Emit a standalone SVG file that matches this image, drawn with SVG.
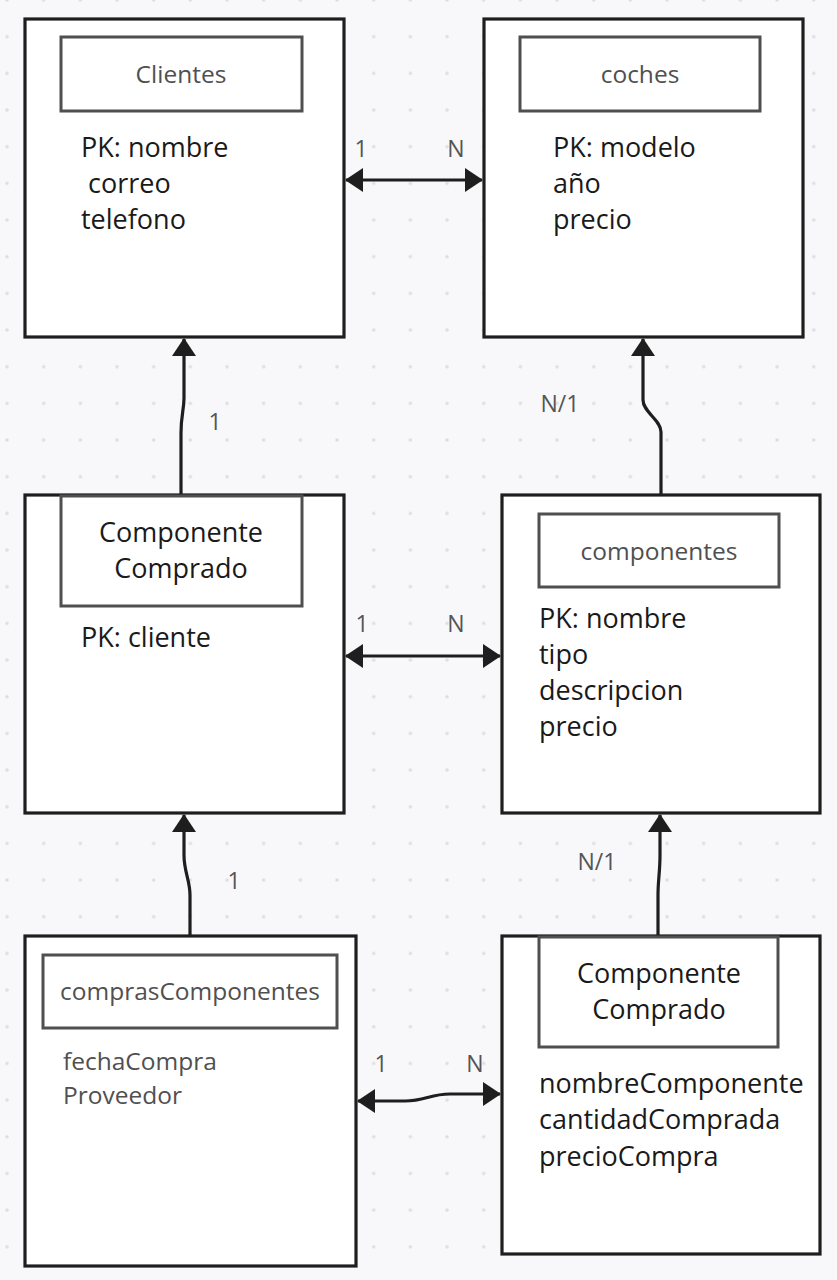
<svg xmlns="http://www.w3.org/2000/svg" width="837" height="1280" viewBox="0 0 837 1280">
<defs>
<pattern id="dots" x="7" y="0" width="36.67" height="36.67" patternUnits="userSpaceOnUse">
<circle cx="0" cy="0" r="1.8" fill="#dedee0"/>
<circle cx="36.67" cy="0" r="1.8" fill="#dedee0"/>
<circle cx="0" cy="36.67" r="1.8" fill="#dedee0"/>
<circle cx="36.67" cy="36.67" r="1.8" fill="#dedee0"/>
</pattern>
<marker id="arr" viewBox="0 0 18 24" refX="17" refY="12" markerWidth="18" markerHeight="24" markerUnits="userSpaceOnUse" orient="auto-start-reverse">
<path d="M0,0 L18,12 L0,24 Z" fill="#1e1e1e"/>
</marker>
</defs>
<style>
.bg{fill:#f8f8fa}
.box{fill:#ffffff;stroke:#1e1e1e;stroke-width:3.2}
.inner{fill:#ffffff;stroke:#4f4f4f;stroke-width:3}
.t{font-family:"Open Sans","Noto Sans","Liberation Sans",sans-serif}
.title{font-size:24.5px;fill:#505050;text-anchor:middle}
.title2{font-size:27px;fill:#1a1a1a;text-anchor:middle}
.attr{font-size:27px;fill:#1a1a1a}
.attrg{font-size:24.5px;fill:#505050}
.lbl{font-size:23px;fill:#555555;text-anchor:middle}
.conn{fill:none;stroke:#1e1e1e;stroke-width:3.2}
</style>
<rect class="bg" x="0" y="0" width="837" height="1280"/>
<rect x="0" y="0" width="837" height="1280" fill="url(#dots)"/>

<g id="clientes">
<rect class="box" x="25" y="19" width="319" height="318"/>
<rect class="inner" x="61" y="37" width="241" height="74"/>
<text class="t title" x="181" y="83">Clientes</text>
<text class="t attr" x="81" y="157">PK: nombre</text>
<text class="t attr" x="81" y="193" xml:space="preserve"> correo</text>
<text class="t attr" x="81" y="229">telefono</text>
</g>

<g id="coches">
<rect class="box" x="484" y="19" width="319" height="318"/>
<rect class="inner" x="520" y="37" width="240" height="74"/>
<text class="t title" x="640" y="83">coches</text>
<text class="t attr" x="553" y="157">PK: modelo</text>
<text class="t attr" x="553" y="193">año</text>
<text class="t attr" x="553" y="229">precio</text>
</g>

<g id="componenteComprado1">
<rect class="box" x="25" y="495" width="319" height="318"/>
<rect class="inner" x="61" y="496" width="241" height="110"/>
<text class="t title2" x="181" y="542">Componente</text>
<text class="t title2" x="181" y="578">Comprado</text>
<text class="t attr" x="81" y="647">PK: cliente</text>
</g>

<g id="componentes">
<rect class="box" x="502" y="495" width="318" height="318"/>
<rect class="inner" x="539" y="514" width="240" height="73"/>
<text class="t title" x="659" y="560">componentes</text>
<text class="t attr" x="539" y="628">PK: nombre</text>
<text class="t attr" x="539" y="664">tipo</text>
<text class="t attr" x="539" y="700">descripcion</text>
<text class="t attr" x="539" y="736">precio</text>
</g>

<g id="comprasComponentes">
<rect class="box" x="25" y="936" width="331" height="330"/>
<rect class="inner" x="43" y="955" width="294" height="73"/>
<text class="t title" x="190" y="1000">comprasComponentes</text>
<text class="t attrg" x="63" y="1070">fechaCompra</text>
<text class="t attrg" x="63" y="1104">Proveedor</text>
</g>

<g id="componenteComprado2">
<rect class="box" x="502" y="936" width="318" height="318"/>
<rect class="inner" x="539" y="937" width="239" height="110"/>
<text class="t title2" x="659" y="983">Componente</text>
<text class="t title2" x="659" y="1019">Comprado</text>
<text class="t attr" x="539" y="1093">nombreComponente</text>
<text class="t attr" x="539" y="1129">cantidadComprada</text>
<text class="t attr" x="539" y="1166">precioCompra</text>
</g>

<g id="connectors">
<path class="conn" d="M346,180 L482,180" marker-start="url(#arr)" marker-end="url(#arr)"/>
<text class="t lbl" x="361" y="157">1</text>
<text class="t lbl" x="456" y="157">N</text>

<path class="conn" d="M181,494 L181,433 C181,415 184,410 184,398 L184,339" marker-end="url(#arr)"/>
<text class="t lbl" x="215" y="430">1</text>

<path class="conn" d="M661,494 L661,432 C661,420 643,412 643,400 L643,339" marker-end="url(#arr)"/>
<text class="t lbl" x="560" y="412">N/1</text>

<path class="conn" d="M346,656 L500,656" marker-start="url(#arr)" marker-end="url(#arr)"/>
<text class="t lbl" x="362" y="632">1</text>
<text class="t lbl" x="456" y="632">N</text>

<path class="conn" d="M190,935 L190,895 C190,880 184,872 184,855 L184,815" marker-end="url(#arr)"/>
<text class="t lbl" x="234" y="889">1</text>

<path class="conn" d="M658,935 L658,895 C658,880 660,872 660,855 L660,815" marker-end="url(#arr)"/>
<text class="t lbl" x="597" y="870">N/1</text>

<path class="conn" d="M358,1101 L405,1101 C425,1101 430,1094 450,1094 L500,1094" marker-start="url(#arr)" marker-end="url(#arr)"/>
<text class="t lbl" x="381" y="1072">1</text>
<text class="t lbl" x="475" y="1072">N</text>
</g>
</svg>
